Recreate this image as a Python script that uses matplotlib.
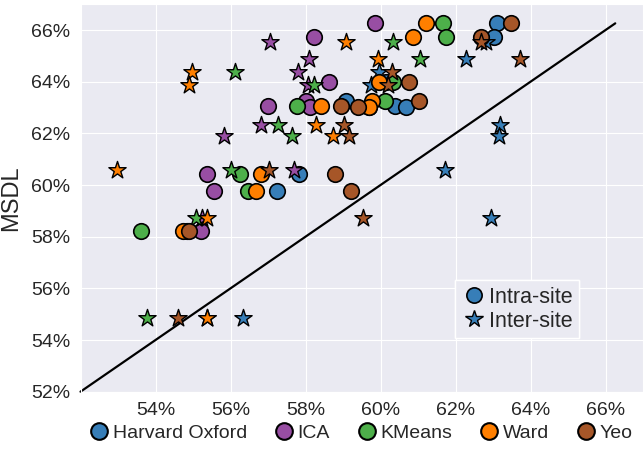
import matplotlib.pyplot as plt
import seaborn as sns
from matplotlib.lines import Line2D

# Style
sns.set_style("darkgrid")
plt.rcParams["font.family"] = ["Liberation Sans", "DejaVu Sans"]

# Data (MSDL score vs other atlas score, in %)
atlases = ["Harvard Oxford", "ICA", "KMeans", "Ward", "Yeo"]
colors = ["#377eb8", "#984ea3", "#4daf4a", "#ff7f00", "#a65628"]

# y values (MSDL) shared by every atlas
intra_msdl = [66.26, 65.74, 64.00, 63.27, 63.05, 63.02, 60.43, 59.78, 58.24]
inter_msdl = [65.52, 64.87, 64.37, 63.87, 62.33, 61.91, 60.59, 58.72, 54.87]

# x values, one list per atlas
intra_ho = [63.10, 63.02, 60.15, 59.08, 60.39, 60.69, 57.82, 57.24, 54.85]
intra_ica = [59.84, 58.22, 58.62, 58.00, 56.99, 58.13, 55.38, 55.56, 55.22]
intra_kmeans = [61.67, 61.74, 60.32, 60.13, 57.78, 59.70, 56.24, 56.46, 53.60]
intra_ward = [61.21, 60.87, 59.95, 59.77, 58.40, 59.70, 56.80, 56.69, 54.73]
intra_yeo = [63.47, 62.67, 60.76, 61.03, 58.95, 59.39, 58.79, 59.21, 54.89]

inter_ho = [62.80, 62.27, 59.95, 59.74, 63.18, 63.16, 61.72, 62.94, 56.33]
inter_ica = [57.04, 58.10, 57.81, 58.06, 56.82, 55.82, 57.69, 55.25, 55.37]
inter_kmeans = [60.32, 61.06, 56.11, 58.22, 57.26, 57.64, 56.02, 55.09, 53.78]
inter_ward = [59.08, 59.92, 54.96, 54.89, 58.28, 58.72, 52.96, 55.37, 55.37]
inter_yeo = [62.67, 63.73, 60.30, 60.19, 59.02, 59.15, 57.02, 59.54, 54.60]

intra_x = [intra_ho, intra_ica, intra_kmeans, intra_ward, intra_yeo]
inter_x = [inter_ho, inter_ica, inter_kmeans, inter_ward, inter_yeo]

# Figure config
fig = plt.figure(figsize=(6.43, 4.5), dpi=100)
ax = fig.add_axes([0.1252, 0.1296, 0.8748, 0.861])

lo = 52
hi = max(intra_msdl + inter_msdl)
ax.plot([lo, hi], [lo, hi], color="k", lw=1.6, clip_on=False, zorder=2)

for name, col, xi, xo in zip(atlases, colors, intra_x, inter_x):
    ax.scatter(xi, intra_msdl, s=125, marker="o", color=col,
               edgecolor="k", linewidth=1.2, zorder=3)
    ax.scatter(xo, inter_msdl, s=170, marker="*", color=col,
               edgecolor="k", linewidth=1.0, zorder=3)

ax.set_xlim(52, 67)
ax.set_ylim(52, 67)
ax.set_xticks(range(54, 67, 2))
ax.set_yticks(range(52, 67, 2))
ax.set_xticklabels(["%d%%" % t for t in range(54, 67, 2)])
ax.set_yticklabels(["%d%%" % t for t in range(52, 67, 2)])
ax.tick_params(labelsize=14, pad=4)
ax.set_ylabel("MSDL", fontsize=17, labelpad=6)

# Marker type legend
type_handles = [
    Line2D([], [], ls="", marker="o", ms=11, mfc=colors[0], mec="k", mew=1.2),
    Line2D([], [], ls="", marker="*", ms=13, mfc=colors[0], mec="k", mew=1.0),
]
leg = ax.legend(type_handles, ["Intra-site", "Inter-site"], loc="lower right",
                bbox_to_anchor=(0.906, 0.11), fontsize=15.5, frameon=True,
                fancybox=False, framealpha=1, edgecolor="white",
                handletextpad=0.1, borderpad=0.3, labelspacing=0.15,
                handlelength=1.2)
ax.add_artist(leg)

# Atlas legend below
atlas_handles = [Line2D([], [], ls="", marker="o", ms=12, mfc=c, mec="k", mew=1.5)
                 for c in colors]
fig.legend(atlas_handles, atlases, loc="center", bbox_to_anchor=(0.56, 0.037),
           ncol=5, fontsize=14, frameon=False, handletextpad=0.1,
           columnspacing=1.3, handlelength=1.2)

fig.savefig("out.png", dpi=100)
